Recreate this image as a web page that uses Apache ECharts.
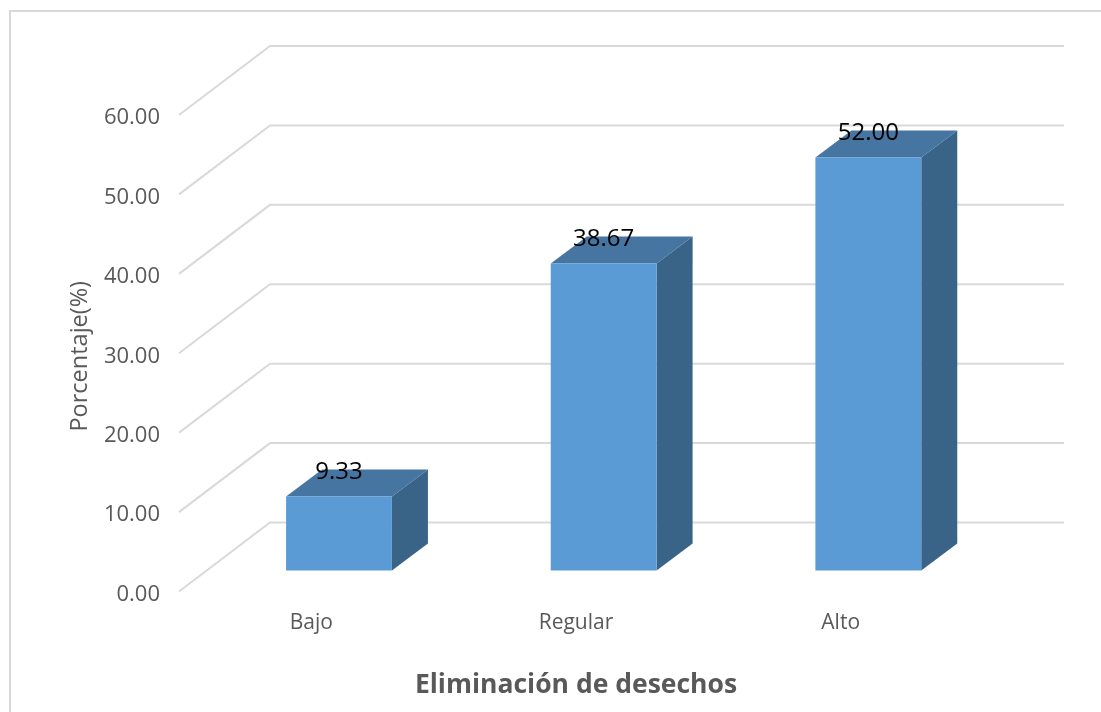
<!DOCTYPE html>
<html>
<head>
<meta charset="utf-8">
<script src="https://cdn.jsdelivr.net/npm/echarts@6/dist/echarts.min.js"></script>
<style>
  html, body { margin: 0; padding: 0; background: #fff; }
  #chart { width: 1101px; height: 712px; }
</style>
</head>
<body>
<div id="chart"></div>
<script>
const categories = ['Bajo', 'Regular', 'Alto'];
const percentages = [9.33, 38.67, 52.00];
const wallTicks = [0, 10, 20, 30, 40, 50, 60];

const FONT = '"Open Sans", "Noto Sans", sans-serif';
// Receding floor depth, in pixels, from the axis plane to the back wall
const WALL_DX = 91, WALL_DY = -69;
// The marks sit slightly above the tick label baseline
const PLANE_LIFT = 3;
// Where the bar's front face sits on that depth, and the bar's own depth
const BAR_DEPTH_RATIO = 0.304;
const BAR_DX = 36, BAR_DY = -27;
const BAR_WIDTH_RATIO = 0.4;

// Each gridline runs from the axis, back along the side wall, then across the back wall
function renderWallLine(params, api) {
  const left = api.coord([0, api.value(0)]);
  const bandW = api.size([1, 0])[0];
  const x0 = left[0] - bandW / 2, y0 = left[1] - PLANE_LIFT;
  const x2 = x0 + bandW * categories.length + WALL_DX;
  return {
    type: 'polyline',
    shape: { points: [[x0, y0], [x0 + WALL_DX, y0 + WALL_DY], [x2, y0 + WALL_DY]] },
    style: { stroke: '#d9d9d9', lineWidth: 2, fill: null },
    silent: true
  };
}

// A bar drawn as three faces, with its value printed on the top face
function renderBar(params, api) {
  const top = api.coord([api.value(0), api.value(1)]);
  const base = api.coord([api.value(0), 0]);
  const w = api.size([1, 0])[0] * BAR_WIDTH_RATIO;
  const ox = WALL_DX * BAR_DEPTH_RATIO, oy = WALL_DY * BAR_DEPTH_RATIO - PLANE_LIFT;
  const l = top[0] + ox - w / 2, r = l + w;
  const t = top[1] + oy, b = base[1] + oy;
  return {
    type: 'group',
    children: [
      { type: 'polygon',
        shape: { points: [[r, t], [r + BAR_DX, t + BAR_DY], [r + BAR_DX, b + BAR_DY], [r, b]] },
        style: { fill: '#396488' } },
      { type: 'polygon',
        shape: { points: [[l, t], [l + BAR_DX, t + BAR_DY], [r + BAR_DX, t + BAR_DY], [r, t]] },
        style: { fill: '#4675a1' } },
      { type: 'rect',
        shape: { x: l, y: t, width: w, height: b - t },
        style: { fill: '#5b9bd5' } },
      { type: 'text',
        x: (l + r) / 2, y: t + BAR_DY + 2.5,
        style: {
          text: api.value(1).toFixed(2), fill: '#000',
          font: '24px ' + FONT, align: 'center', verticalAlign: 'middle'
        } }
    ]
  };
}

const chart = echarts.init(document.getElementById('chart'), null, { renderer: 'canvas' });
chart.setOption({
  animation: false,
  backgroundColor: '#fff',
  graphic: [{
    type: 'rect', silent: true, z: -1,
    shape: { x: 10, y: 11, width: 1120, height: 760 },
    style: { fill: 'none', stroke: '#d9d9d9', lineWidth: 2 }
  }],
  grid: { left: 179, top: 118, width: 794, height: 476.5, containLabel: false },
  xAxis: {
    type: 'category',
    data: categories,
    axisLine: { show: false },
    axisTick: { show: false },
    axisLabel: { color: '#595959', fontFamily: FONT, fontSize: 21, margin: 18 },
    name: 'Eliminación de desechos',
    nameLocation: 'middle',
    nameGap: 77,
    nameTextStyle: { color: '#595959', fontFamily: FONT, fontSize: 26.5, fontWeight: 'bold' }
  },
  yAxis: {
    type: 'value',
    min: 0, max: 60, interval: 10,
    splitLine: { show: false },
    axisLine: { show: false },
    axisTick: { show: false },
    axisLabel: {
      color: '#595959', fontFamily: FONT, fontSize: 22, margin: 19,
      formatter: v => v.toFixed(2)
    },
    name: 'Porcentaje(%)',
    nameLocation: 'middle',
    nameGap: 87,
    nameTextStyle: { color: '#595959', fontFamily: FONT, fontSize: 23.5 }
  },
  series: [
    {
      type: 'custom',
      renderItem: renderWallLine,
      data: wallTicks.map(v => [v]),
      encode: { y: 0 },
      z: 1,
      silent: true
    },
    {
      type: 'custom',
      renderItem: renderBar,
      data: percentages.map((v, i) => [i, v]),
      encode: { x: 0, y: 1 },
      z: 2,
      silent: true
    }
  ]
});
</script>
</body>
</html>
